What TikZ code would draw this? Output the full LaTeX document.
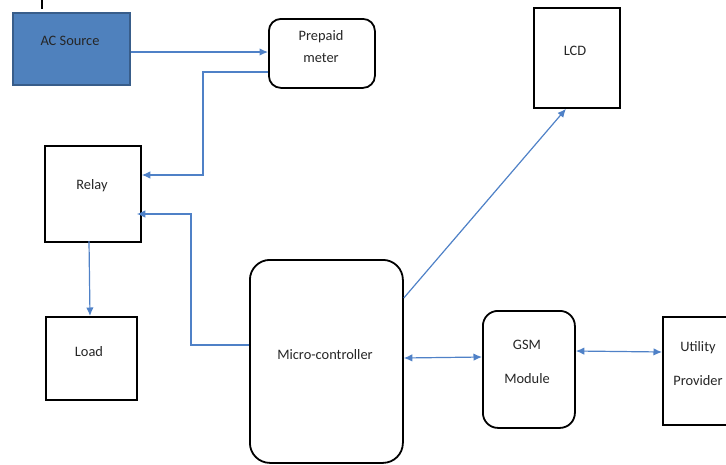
\documentclass[tikz,border=0pt]{standalone}
\usepackage{fontspec}
\setmainfont{Carlito}
\usetikzlibrary{arrows.meta,calc}
\definecolor{srcfill}{HTML}{4F81BD}
\definecolor{srcedge}{HTML}{385D8A}
\definecolor{wire}{HTML}{4F81C7}
\definecolor{ink}{HTML}{262626}
\begin{document}
\begin{tikzpicture}[x=1pt,y=-1pt,
  block/.style={draw=black,line width=1.8pt,inner sep=0pt,anchor=north west,fill=white},
  source/.style={draw=srcedge,line width=1.6pt,fill=srcfill,inner sep=0pt,anchor=north west},
  txt/.style={text=ink,font=\fontsize{14.4}{17}\selectfont,inner sep=0pt},
  wireline/.style={draw=wire,line width=1.2pt},
  arr/.style={wireline,-{Latex[length=8.5pt,width=7.5pt]}},
  darr/.style={wireline,{Latex[length=8.5pt,width=7.5pt]}-{Latex[length=8.5pt,width=7.5pt]}}]
\useasboundingbox (0,0) rectangle (726,464);
\clip (0,0) rectangle (726,464);

% blocks
\node[source, minimum width=117pt, minimum height=72pt] (ac) at (12,12) {};
\node[block, rounded corners=12pt, minimum width=106pt, minimum height=69pt] (pm) at (268,18) {};
\node[block, minimum width=86pt, minimum height=100pt] (lcd) at (533,7) {};
\node[block, minimum width=96pt, minimum height=96pt] (relay) at (44,145) {};
\node[block, minimum width=91pt, minimum height=83pt] (load) at (45,316) {};
\node[block, rounded corners=20pt, minimum width=153pt, minimum height=203pt] (mc) at (249,259) {};
\node[block, rounded corners=15pt, minimum width=92pt, minimum height=117pt] (gsm) at (482,310) {};
\node[block, minimum width=80pt, minimum height=108pt] (util) at (662,316) {};

% short lead above the source
\coordinate (leadtop) at (42,0);
\coordinate (leadend) at (42,9);
\draw[black, line width=1.2pt] (leadtop) -- (leadend);

% captions
\node[txt] (acT) at (70,41) {AC Source};
\node[txt] (pmT1) at (321,37) {Prepaid};
\node[txt] (pmT2) at (321,58) {meter};
\node[txt] (lcdT) at (575,51) {LCD};
\node[txt] (relayT) at (92,186) {Relay};
\node[txt] (loadT) at (89,352) {Load};
\node[txt] (mcT) at (325,355) {Micro-controller};
\node[txt] (gsmT1) at (527,345) {GSM};
\node[txt] (gsmT2) at (527,379) {Module};
\node[txt] (utilT1) at (698,348) {Utility};
\node[txt] (utilT2) at (698,381) {Provider};

% connections
\draw[arr] (ac.east |- 0,52) -- (pm.west |- 0,52);
\draw[arr] (pm.west |- 0,72) -- (203,72) -- (203,175) -- (relay.east |- 0,175);
\draw[arr] (89,241) -- (90,316);
\draw[arr, shorten >=-5pt] (mc.west |- 0,345) -- (191,345) -- (191,214) -- (relay.east |- 0,214);
\draw[arr] (mc.east |- 0,298) -- (lcd.south -| 566,0);
\draw[darr] (mc.east |- 0,358) -- (gsm.west |- 0,357);
\draw[darr] (gsm.east |- 0,351) -- (util.west |- 0,352);
\end{tikzpicture}
\end{document}
